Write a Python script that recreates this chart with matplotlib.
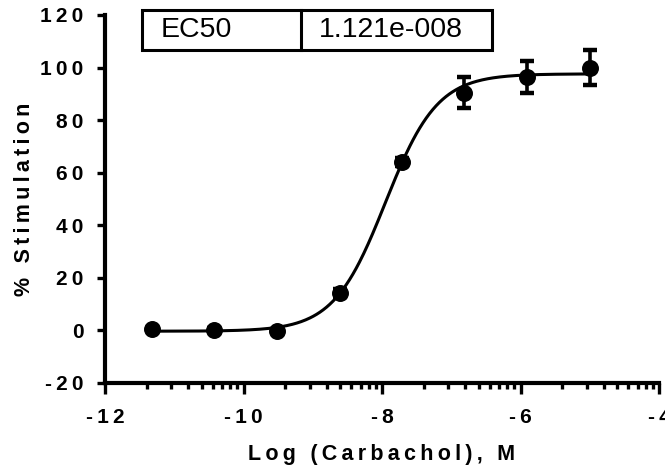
import numpy as np
import matplotlib
matplotlib.use("Agg")
import matplotlib.pyplot as plt
from matplotlib.patches import Rectangle
from matplotlib.lines import Line2D

plt.rcParams['font.family'] = ['Liberation Sans', 'DejaVu Sans']

# ---- data ----
log_conc = [-11.32, -10.42, -9.52, -8.61, -7.71, -6.81, -5.90, -5.00]
stimulation = [0.5, 0.3, -0.2, 14.3, 64.0, 90.5, 96.5, 100.0]
sem = [0.5, 0.5, 0.5, 1.5, 1.5, 5.9, 6.1, 6.8]

# 4PL fit parameters
fit_bottom = -0.3
fit_top = 97.6
fit_ec50 = 1.121e-8
fit_hill = 1.16

ec50_label = "EC50"
ec50_text = "1.121e-008"

xticks = [-12, -10, -8, -6, -4]
yticks = [-20, 0, 20, 40, 60, 80, 100, 120]
xlabel = "Log (Carbachol), M"
ylabel = "% Stimulation"

THIN = "\u2009"


def spaced(s, sep):
    return sep.join(list(s))


fig = plt.figure(figsize=(6.65, 4.72), dpi=100)
ax = fig.add_axes([105 / 665, 1 - 383 / 472, 554 / 665, 368 / 472])

# fit curve
logec50 = np.log10(fit_ec50)
xc = np.linspace(min(log_conc), max(log_conc), 400)
yc = fit_bottom + (fit_top - fit_bottom) / (1 + 10 ** ((logec50 - xc) * fit_hill))
ax.plot(xc, yc, color='black', lw=2.2, zorder=2)

ax.errorbar(log_conc, stimulation, yerr=sem, fmt='o', color='black',
            ms=11.2, elinewidth=2.6, capsize=5.0, capthick=3.2, zorder=3)

ax.set_xlim(-12, -4)
ax.set_ylim(-20, 120)

for s in ['top', 'right']:
    ax.spines[s].set_visible(False)
for s in ['left', 'bottom']:
    ax.spines[s].set_linewidth(3.0)

ax.set_xticks(xticks)
ax.set_xticklabels([spaced(str(t), THIN) for t in xticks])
ax.set_yticks(yticks)
ax.set_yticklabels([spaced(str(t), THIN) for t in yticks])

minor = []
for m in xticks[:-1]:
    for k in range(2, 10):
        minor.append(m + 2 * np.log10(k))
ax.set_xticks(minor, minor=True)

ax.tick_params(axis='x', which='major', length=8, width=2.4, pad=10)
ax.tick_params(axis='x', which='minor', length=4.5, width=2.4)
ax.tick_params(axis='y', which='major', length=6, width=2.4, pad=9.5)
for lab in ax.get_xticklabels() + ax.get_yticklabels():
    lab.set_fontsize(15)
    lab.set_fontweight('bold')

ax.set_xlabel(spaced(xlabel, THIN), fontsize=15.5, fontweight='bold', labelpad=12)
ax.set_ylabel(spaced(ylabel, THIN), fontsize=15.5, fontweight='bold', labelpad=4)

# EC50 table box
left, right, div = 142 / 665, 492 / 665, 301 / 665
bot, top = 1 - 50 / 472, 1 - 10 / 472
fig.add_artist(Rectangle((left, bot), right - left, top - bot, transform=fig.transFigure,
                         fill=False, lw=2.2, edgecolor='black'))
fig.add_artist(Line2D([div, div], [bot, top], transform=fig.transFigure, lw=2.2, color='black'))
ymid = (bot + top) / 2
fig.text(161 / 665, ymid, ec50_label, fontsize=20.5, va='center', ha='left')
fig.text(319 / 665, ymid, ec50_text, fontsize=20.5, va='center', ha='left')

fig.savefig("out.png", dpi=100)
